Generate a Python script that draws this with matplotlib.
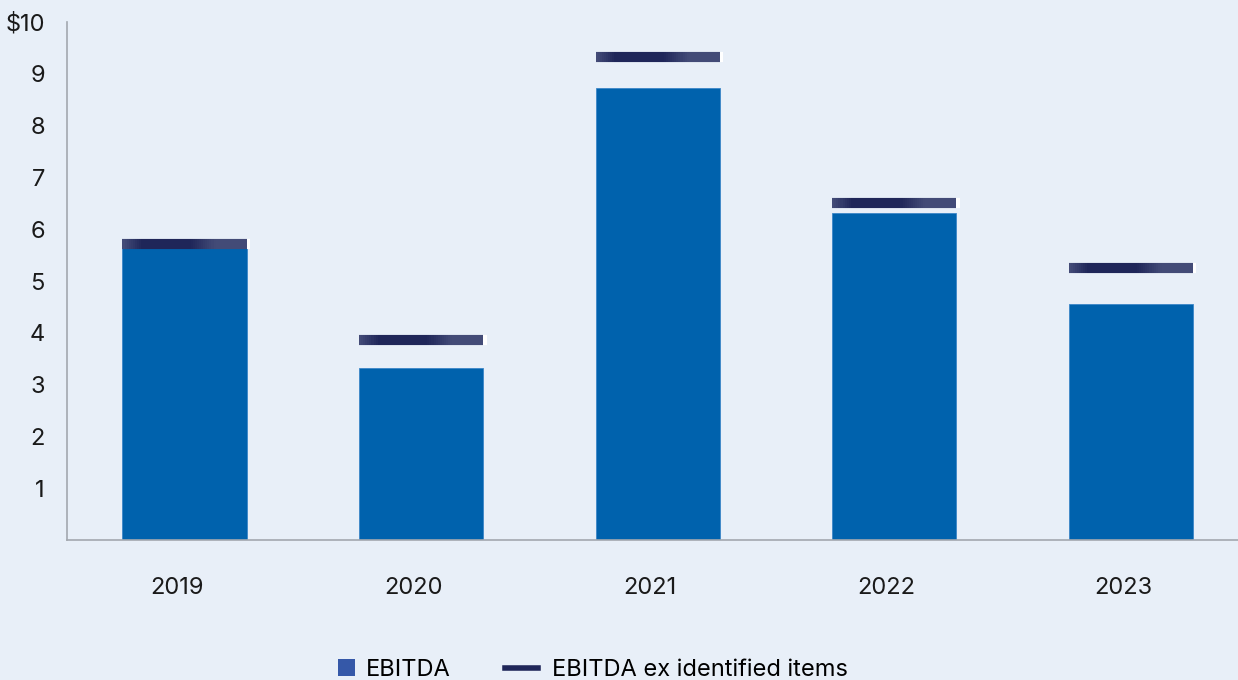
import numpy as np
import matplotlib.pyplot as plt
import matplotlib.transforms as mtransforms
from matplotlib.collections import LineCollection
from matplotlib.colors import LinearSegmentedColormap
from matplotlib.patches import Patch
from matplotlib.lines import Line2D

years = ['2019', '2020', '2021', '2022', '2023']
ebitda = [5.63, 3.33, 8.73, 6.32, 4.55]
ebitda_ex_items = [5.72, 3.87, 9.33, 6.51, 5.26]
yticks = [1, 2, 3, 4, 5, 6, 7, 8, 9, 10]
ytick_labels = ['1', '2', '3', '4', '5', '6', '7', '8', '9', '$10']

bg = '#E8EFF8'
bar_color = '#0062AD'
line_color = '#1F2659'
edge_color = '#434B77'
spine_color = '#A3A8AF'

plt.rcParams['font.family'] = ['Inter', 'DejaVu Sans']

fig = plt.figure(figsize=(12.38, 6.8), dpi=100, facecolor=bg)
ax = fig.add_axes([0.0541, 0.2059, 0.9459, 0.7617])
ax.set_facecolor(bg)

x = np.arange(len(years))
width = 0.525
ax.bar(x, ebitda, width=width, color=bar_color, edgecolor='#3C86C8',
       linewidth=0.6, zorder=2)

# ex-items markers, shaded light at the ends and dark through the middle
shade = LinearSegmentedColormap.from_list(
    'shade', [(0, edge_color), (0.15, line_color), (0.55, line_color),
              (0.75, edge_color), (1, edge_color)])
n = 60
t = np.linspace(0, 1, n + 1)
segs, vals = [], []
for xi, yi in zip(x, ebitda_ex_items):
    xs = xi - width / 2 + t * width
    for k in range(n):
        segs.append([(xs[k], yi), (xs[k + 1], yi)])
        vals.append((t[k] + t[k + 1]) / 2)
lc = LineCollection(segs, cmap=shade, linewidths=7.3, capstyle='butt', zorder=4)
lc.set_array(np.array(vals))
ax.add_collection(lc)
ax.hlines(ebitda_ex_items, x + width / 2, x + width / 2 + 0.015,
          colors='white', linewidth=7.3, zorder=3)

ax.set_xlim(-0.497, 4.453)
ax.set_ylim(0, 10)
ax.set_xticks(x)
ax.set_xticklabels(years)
ax.set_yticks(yticks)
ax.set_yticklabels(ytick_labels)
ax.tick_params(axis='x', length=0, pad=27, labelsize=17, colors='#1a1a1a')
ax.tick_params(axis='y', length=0, pad=16, labelsize=17, colors='#1a1a1a')
shift = mtransforms.ScaledTranslation(-8 / 100, 0, fig.dpi_scale_trans)
for lab in ax.get_xticklabels():
    lab.set_transform(lab.get_transform() + shift)

for side in ['top', 'right']:
    ax.spines[side].set_visible(False)
for side in ['left', 'bottom']:
    ax.spines[side].set_color(spine_color)
    ax.spines[side].set_linewidth(1.2)

leg1 = fig.legend([Patch(facecolor='#3558A8', edgecolor='none')], ['EBITDA'],
                  loc='center left', bbox_to_anchor=(338 / 1238, 0.015),
                  frameon=False, fontsize=17, handlelength=0.72,
                  handleheight=0.76, handletextpad=0.45, borderpad=0,
                  borderaxespad=0)
leg2 = fig.legend([Line2D([0], [0], color=line_color, linewidth=4)],
                  ['EBITDA ex identified items'],
                  loc='center left', bbox_to_anchor=(505 / 1238, 0.015),
                  frameon=False, fontsize=17, handlelength=1.4,
                  handletextpad=0.6, borderpad=0, borderaxespad=0)

fig.savefig('out.png', dpi=100, facecolor=bg)
